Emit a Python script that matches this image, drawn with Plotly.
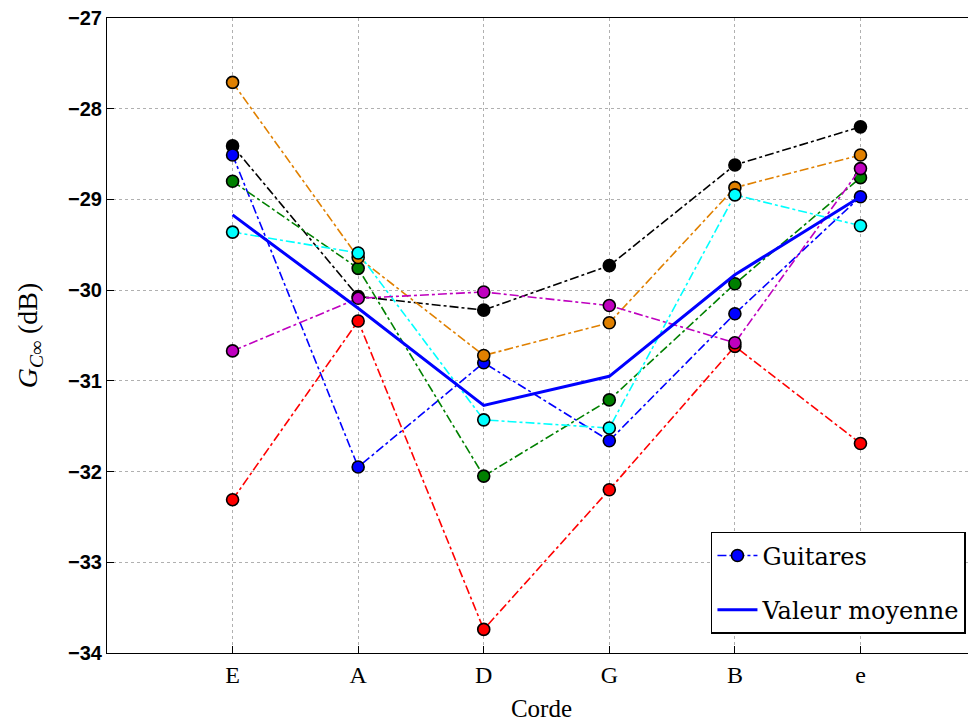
import plotly.graph_objects as go

cordes = ["E", "A", "D", "G", "B", "e"]
x_pos = [1, 2, 3, 4, 5, 6]

g_blue = [-28.51, -31.95, -30.80, -31.66, -30.26, -28.97]
g_black = [-28.41, -30.07, -30.22, -29.73, -28.62, -28.20]
g_green = [-28.80, -29.76, -32.05, -31.21, -29.93, -28.76]
g_red = [-32.31, -30.34, -33.74, -32.20, -30.62, -31.69]
g_orange = [-27.71, -29.64, -30.72, -30.36, -28.87, -28.51]
g_cyan = [-29.36, -29.59, -31.43, -31.52, -28.95, -29.29]
g_magenta = [-30.67, -30.09, -30.02, -30.17, -30.58, -28.66]
moyenne = [-29.17, -30.20, -31.27, -30.95, -29.83, -28.97]

y_ticks = [-34, -33, -32, -31, -30, -29, -28, -27]

series = [
    ("black", g_black, False),
    ("#0000ff", g_blue, True),
    ("#008000", g_green, False),
    ("#ff0000", g_red, False),
    ("#e08000", g_orange, False),
    ("#00ffff", g_cyan, False),
    ("#bf00bf", g_magenta, False),
]

serif = "Liberation Serif"

fig = go.Figure()
for color, vals, show in series:
    fig.add_trace(go.Scatter(
        x=x_pos, y=vals, mode="lines+markers",
        line=dict(color=color, width=1.6, dash="dashdot"),
        marker=dict(size=12, color=color, line=dict(color="black", width=1.6)),
        name="Guitares", showlegend=show, legendgroup="g",
    ))

fig.add_trace(go.Scatter(
    x=x_pos, y=moyenne, mode="lines",
    line=dict(color="#0000ff", width=3),
    name="Valeur moyenne", legendgroup="m",
))

fig.update_layout(
    width=968, height=714,
    margin=dict(l=99, r=0, t=10, b=69),
    plot_bgcolor="white", paper_bgcolor="white",
    font=dict(family=serif, color="black"),
    showlegend=True,
    legend=dict(
        x=0.695, xanchor="left", y=0.03, yanchor="bottom",
        bordercolor="black", borderwidth=1.5, bgcolor="white",
        font=dict(family="DejaVu Serif", size=24, color="black"),
        itemwidth=40, traceorder="grouped", tracegroupgap=20,
    ),
)

fig.update_xaxes(
    range=[0, 6.92], tickvals=x_pos, ticktext=cordes,
    showline=True, linecolor="black", linewidth=1, mirror=True,
    ticks="inside", ticklen=7, tickcolor="black",
    showgrid=True, gridcolor="#b0b0b0", griddash="dot", gridwidth=1,
    zeroline=False,
    tickfont=dict(family=serif, size=24, color="black"),
    title=dict(text="Corde", font=dict(family=serif, size=25, color="black"), standoff=12),
)
fig.update_yaxes(
    range=[-34, -27], tickvals=y_ticks, ticktext=[str(v).replace("-", "\u2212") for v in y_ticks],
    showline=True, linecolor="black", linewidth=1, mirror=True,
    ticks="inside", ticklen=7, tickcolor="black",
    showgrid=True, gridcolor="#b0b0b0", griddash="dot", gridwidth=1,
    zeroline=False, ticklabeloverflow="allow",
    tickfont=dict(family="Liberation Sans", size=20, color="black", weight="bold"),
    title=dict(text="<i>G</i><sub><i>C</i>\u221e</sub> (dB)",
               font=dict(family=serif, size=28, color="black"), standoff=22),
)

fig.write_html("out.html")
